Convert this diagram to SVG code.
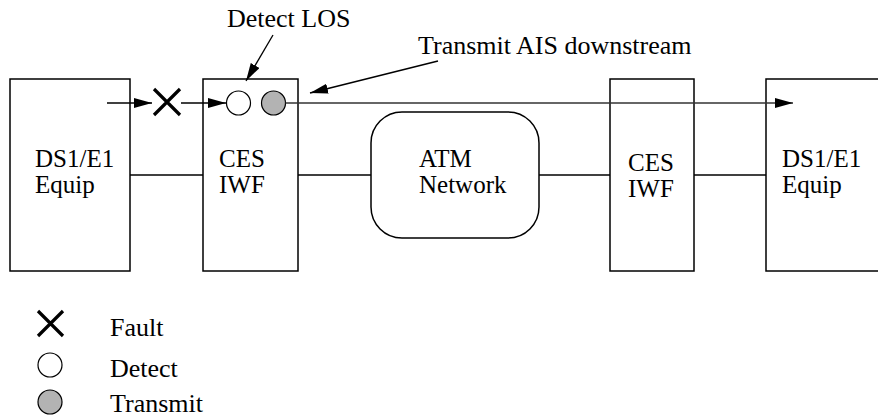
<svg xmlns="http://www.w3.org/2000/svg" width="878" height="417" viewBox="0 0 878 417">
<style>
.box{fill:#fff;stroke:#000;stroke-width:1.5}
.lbl{font-family:'Liberation Serif','Times New Roman',serif;font-size:26px;fill:#000}
.nl{font-family:'Liberation Serif','Times New Roman',serif;font-size:25px;fill:#000}
.wire{stroke:#000;stroke-width:1.3;fill:none}
.sig{stroke:#333;stroke-width:1.6;fill:none}
.x{stroke:#000;stroke-width:3.2;fill:none}
.det{fill:#fff;stroke:#000;stroke-width:1.2}
.tx{fill:#b3b3b3;stroke:#000;stroke-width:1.2}
</style>
<defs>
<marker id="ah" viewBox="0 0 18 10" refX="18" refY="5" markerWidth="18" markerHeight="10" markerUnits="userSpaceOnUse" orient="auto">
<path d="M0,0 L18,5 L0,10 Z" fill="#000"/>
</marker>
</defs>
<g id="connectors">
<line class="wire" x1="130" y1="175" x2="203" y2="175"/>
<line class="wire" x1="298" y1="175" x2="371" y2="175"/>
<line class="wire" x1="539" y1="175" x2="610" y2="175"/>
<line class="wire" x1="694" y1="175" x2="766" y2="175"/>
</g>
<g id="node-ds1-left">
<rect class="box" x="10" y="79" width="120" height="192"/>
<text class="nl" x="35" y="167">DS1/E1</text>
<text class="nl" x="35" y="193">Equip</text>
</g>
<g id="node-ces-left">
<rect class="box" x="203" y="79" width="95" height="192"/>
<text class="nl" x="219" y="167">CES</text>
<text class="nl" x="219" y="193">IWF</text>
</g>
<g id="node-atm">
<rect class="box" x="371" y="112" width="168" height="126" rx="31" ry="31"/>
<text class="nl" x="419" y="167">ATM</text>
<text class="nl" x="419" y="193">Network</text>
</g>
<g id="node-ces-right">
<rect class="box" x="610" y="79" width="84" height="192"/>
<text class="nl" x="628" y="171">CES</text>
<text class="nl" x="628" y="197">IWF</text>
</g>
<g id="node-ds1-right">
<rect class="box" x="766" y="79" width="130" height="192"/>
<text class="nl" x="782" y="167">DS1/E1</text>
<text class="nl" x="782" y="193">Equip</text>
</g>
<g id="signal">
<line class="wire" x1="107" y1="103" x2="152" y2="103" marker-end="url(#ah)"/>
<path class="x" d="M154,89 L180,115 M180,89 L154,115"/>
<line class="wire" x1="181" y1="103" x2="226" y2="103" marker-end="url(#ah)"/>
<circle class="det" cx="238.5" cy="103" r="12"/>
<circle class="tx" cx="273.5" cy="103" r="12"/>
<line class="sig" x1="285.5" y1="103" x2="793" y2="103" marker-end="url(#ah)"/>
</g>
<g id="callouts">
<text class="lbl" x="227" y="27">Detect LOS</text>
<line class="wire" x1="273" y1="35" x2="246" y2="81" marker-end="url(#ah)"/>
<text class="lbl" x="418" y="54">Transmit AIS downstream</text>
<line class="wire" x1="438" y1="61" x2="310" y2="93" marker-end="url(#ah)"/>
</g>
<g id="legend">
<path class="x" d="M38,311 L63,336 M63,311 L38,336"/>
<text class="lbl" x="110" y="336">Fault</text>
<circle class="det" cx="50" cy="365" r="12"/>
<text class="lbl" x="110" y="377">Detect</text>
<circle class="tx" cx="50" cy="402" r="12"/>
<text class="lbl" x="110" y="412">Transmit</text>
</g>
</svg>
